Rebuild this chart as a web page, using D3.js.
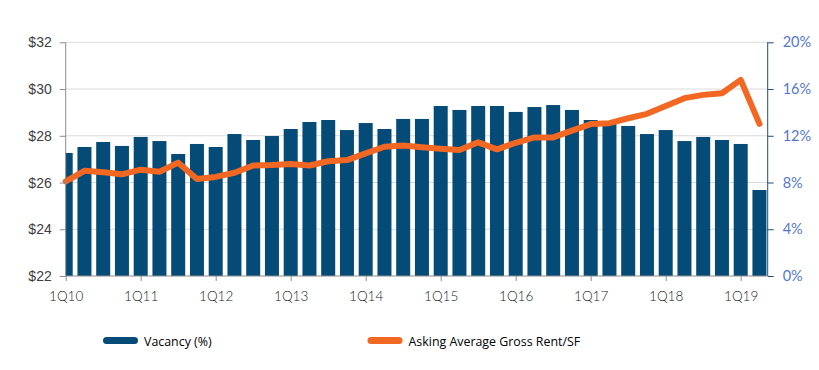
<!DOCTYPE html>
<html><head><meta charset="utf-8">
<script src="https://cdn.jsdelivr.net/npm/d3@7"></script>
<style>body{margin:0;background:#fff}svg{display:block}</style>
</head><body><div id="chart"></div>
<script>
const quarters = [];
["10","11","12","13","14","15","16","17","18","19"].forEach(y=>{for(let q=1;q<=4;q++) quarters.push(q+"Q"+y);});
const categories = quarters.slice(0,38);
const vacancy = [10.53,11.04,11.47,11.13,11.90,11.55,10.44,11.30,11.04,12.15,
  11.64,11.98,12.58,13.18,13.35,12.49,13.09,12.58,13.44,13.44,
  14.55,14.21,14.55,14.55,14.04,14.46,14.63,14.21,13.35,13.05,
  12.84,12.15,12.49,11.55,11.90,11.64,11.30,7.36];
const rent = [26.05,26.50,26.44,26.35,26.55,26.46,26.85,26.15,26.24,26.42,
  26.73,26.75,26.79,26.73,26.91,26.96,27.25,27.53,27.58,27.51,
  27.45,27.39,27.72,27.42,27.70,27.93,27.93,28.22,28.50,28.54,
  28.75,28.94,29.27,29.61,29.75,29.82,30.39,28.51];
const leftTicks = [22,24,26,28,30,32];
const rightTicks = [0,4,8,12,16,20];
const xTickLabels = ["1Q10","1Q11","1Q12","1Q13","1Q14","1Q15","1Q16","1Q17","1Q18","1Q19"];

const W=819,H=370;
const L=65.7,R=767.7,T=42.3,B=276;
const svg=d3.select("#chart").append("svg").attr("width",W).attr("height",H);
const step=18.75;
const x=d3.scaleLinear().domain([0,1]).range([L,L+step]);
const yL=d3.scaleLinear().domain([22,32]).range([B,T]);
const yR=d3.scaleLinear().domain([0,20]).range([B,T]);

// gridlines
svg.append("g").selectAll("line").data(leftTicks.slice(1)).join("line")
  .attr("x1",L).attr("x2",R).attr("y1",d=>yL(d)).attr("y2",d=>yL(d))
  .attr("stroke","#d9d9d9").attr("stroke-width",1);

svg.append("clipPath").attr("id","clip").append("rect").attr("x",L).attr("y",0).attr("width",R-L).attr("height",H);

// bars
const bw=14;
svg.append("g").attr("clip-path","url(#clip)").selectAll("rect").data(vacancy).join("rect")
  .attr("x",(d,i)=>x(i)-bw/2).attr("width",bw)
  .attr("y",d=>yR(d)).attr("height",d=>B-yR(d))
  .attr("fill","#054b77");

// line
const line=d3.line().x((d,i)=>x(i)).y(d=>yL(d));
svg.append("path").datum(rent).attr("d",line).attr("fill","none")
  .attr("stroke","#f26722").attr("stroke-width",6).attr("stroke-linejoin","round").attr("stroke-linecap","round");

// left axis
const gl=svg.append("g").attr("transform",`translate(${L},0)`)
  .call(d3.axisLeft(yL).tickValues(leftTicks).tickFormat(d=>"$"+d).tickSize(6).tickPadding(8));
gl.select(".domain").attr("stroke","#8c8c8c").attr("d",`M0,${T}V${B}`);
gl.selectAll(".tick line").attr("stroke","#8c8c8c");
gl.selectAll("text").attr("font-family","Liberation Sans, Arial, sans-serif").attr("font-size",14).attr("fill","#404040");

// right axis
const gr=svg.append("g").attr("transform",`translate(${R},0)`)
  .call(d3.axisRight(yR).tickValues(rightTicks).tickFormat(d=>d+"%").tickSize(6).tickPadding(9));
gr.select(".domain").attr("stroke","#1f4e79").attr("d",`M0,${T}V${B}`);
gr.selectAll(".tick line").attr("stroke","#1f4e79");
gr.selectAll("text").attr("font-family","Lato, sans-serif").attr("font-size",14.5).attr("fill","#5577cc");

// bottom axis
const xIdx=xTickLabels.map((d,i)=>i*4);
const gb=svg.append("g").attr("transform",`translate(0,${B})`)
  .call(d3.axisBottom(x).tickValues(xIdx).tickFormat((d,i)=>xTickLabels[i]).tickSize(5).tickPadding(10));
gb.select(".domain").attr("stroke","#8c8c8c").attr("d",`M${L},0H${R}`);
gb.selectAll(".tick line").attr("stroke","#8c8c8c");
gb.selectAll("text").attr("font-family","Lato, sans-serif").attr("font-weight",300).attr("font-size",13.5).attr("fill","#222");

// legend
const legend=[{label:"Vacancy (%)",color:"#054b77",x:103},{label:"Asking Average Gross Rent/SF",color:"#f26722",x:367.5}];
const lg=svg.append("g");
legend.forEach(d=>{
  lg.append("rect").attr("x",d.x).attr("y",337).attr("width",35).attr("height",7).attr("rx",3.5).attr("fill",d.color);
  lg.append("text").attr("x",d.x+41).attr("y",345.5).text(d.label)
    .attr("font-family","Open Sans, sans-serif").attr("font-size",12.4).attr("fill","#000");
});
</script></body></html>
